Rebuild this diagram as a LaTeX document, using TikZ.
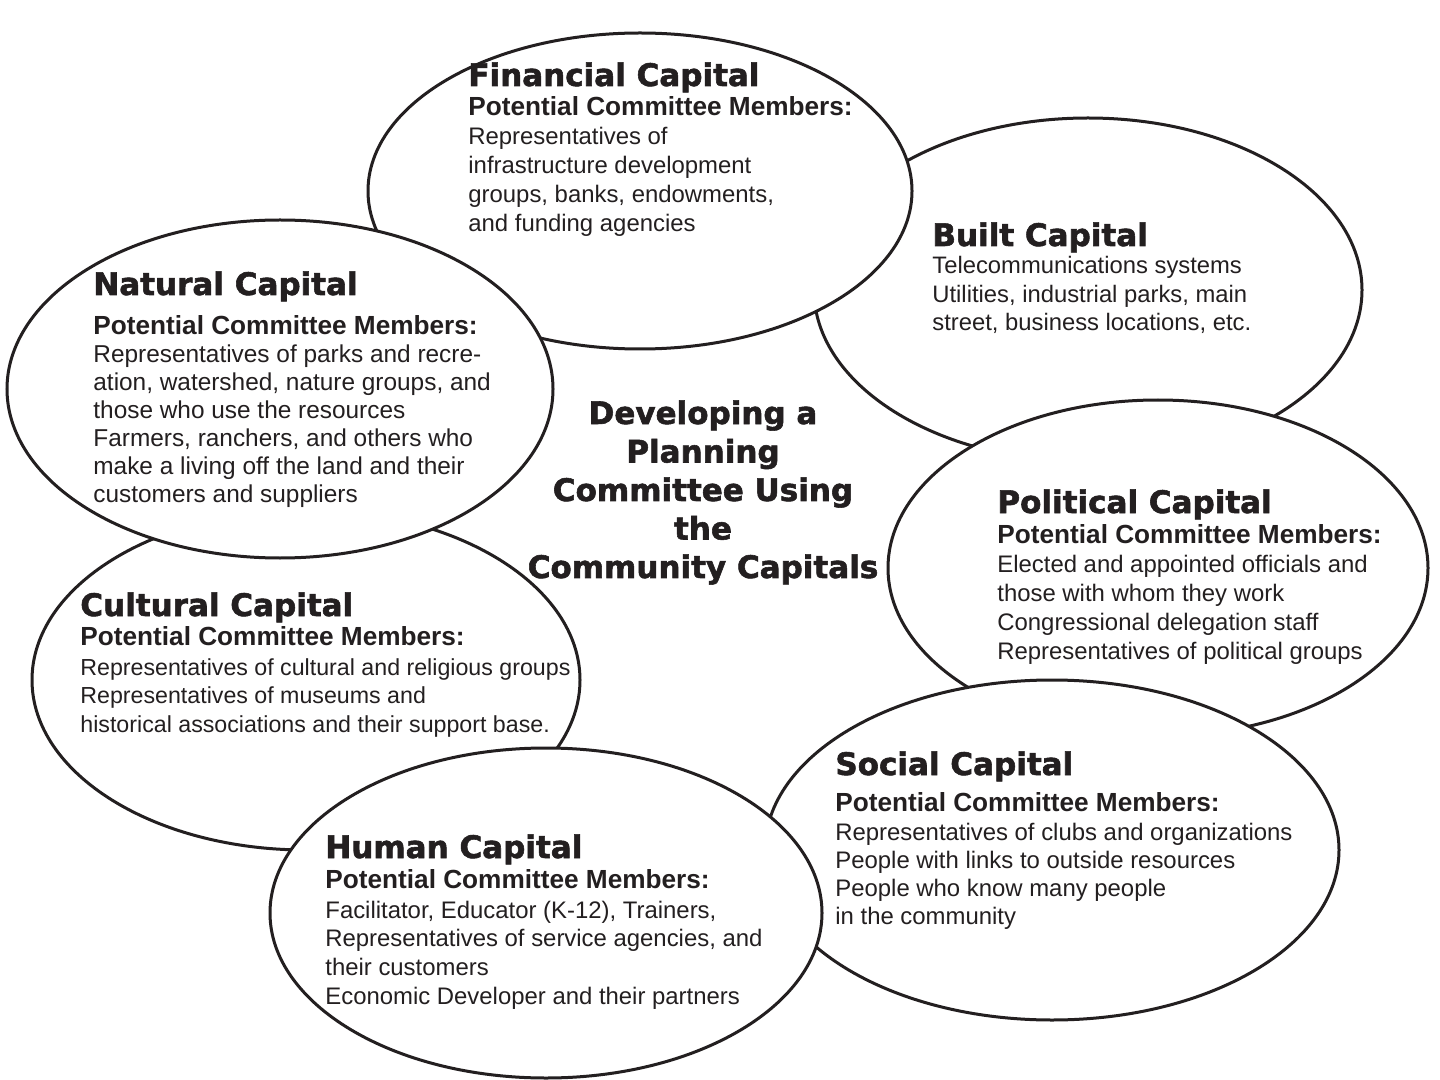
\documentclass[tikz,border=0pt]{standalone}
\usepackage{fontspec}
\setmainfont{Liberation Sans}
\newfontfamily\heavyfont{DejaVu Sans}[BoldFeatures={FakeBold=1.8}]
\usetikzlibrary{shapes.geometric}
\definecolor{ink}{HTML}{231F20}
\tikzset{
  capell/.style={ellipse, draw=ink, line width=1.5pt, fill=white, inner sep=0pt, outer sep=0pt},
  ttl/.style={anchor=base west, inner sep=0pt, text=ink, font=\heavyfont\bfseries\fontsize{15.5}{19}\selectfont},
  subttl/.style={anchor=base west, inner sep=0pt, text=ink, font=\bfseries\fontsize{13.1}{15}\selectfont},
  bodytxt/.style={anchor=base west, inner sep=0pt, text=ink, font=\fontsize{11.95}{14.3}\selectfont},
  centerttl/.style={anchor=base, inner sep=0pt, text=ink, font=\heavyfont\bfseries\fontsize{15.5}{19.25}\selectfont}
}
\newcommand{\lns}[1]{\begin{tabular}[t]{@{}l@{}}#1\end{tabular}}
\begin{document}
\begin{tikzpicture}[x=0.5pt, y=-0.5pt]
  \fill[white] (0,0) rectangle (1440,1080);
  \useasboundingbox (0,0) rectangle (1440,1080);
  % ellipses, back to front
  \node[capell, minimum width=274pt, minimum height=172pt] (blt) at (1088,290) {};
  \node[capell, minimum width=272pt, minimum height=158pt] (fin) at (640,191) {};
  \node[capell, minimum width=274pt, minimum height=170pt] (cul) at (306,680) {};
  \node[capell, minimum width=273pt, minimum height=169pt] (nat) at (280,389) {};
  \node[capell, minimum width=270pt, minimum height=168pt] (pol) at (1158,568) {};
  \node[capell, minimum width=287pt, minimum height=170pt] (soc) at (1052,850) {};
  \node[capell, minimum width=276pt, minimum height=165pt] (hum) at (546,913) {};

  % Financial
  \node[ttl] (finT) at (468,86) {Financial Capital};
  \node[subttl] (finS) at (468,116) {Potential Committee Members:};
  \node[bodytxt, font=\fontsize{11.95}{14.5}\selectfont] (finB) at (468,145) {\lns{Representatives of\\infrastructure development\\groups, banks, endowments,\\and funding agencies}};
  % Built
  \node[ttl] (bltT) at (932,246) {Built Capital};
  \node[bodytxt, font=\fontsize{11.9}{14.25}\selectfont] (bltB) at (932,274) {\lns{Telecommunications systems\\Utilities, industrial parks, main\\street, business locations, etc.}};
  % Natural
  \node[ttl] (natT) at (93,295) {Natural Capital};
  \node[subttl] (natS) at (93,335) {Potential Committee Members:};
  \node[bodytxt, font=\fontsize{12.2}{14}\selectfont] (natB) at (93,363) {\lns{Representatives of parks and recre-\\ation, watershed, nature groups, and\\those who use the resources\\Farmers, ranchers, and others who\\make a living off the land and their\\customers and suppliers}};
  % Political
  \node[ttl] (polT) at (997,513) {Political Capital};
  \node[subttl] (polS) at (997,543) {Potential Committee Members:};
  \node[bodytxt, font=\fontsize{11.95}{14.5}\selectfont] (polB) at (997,572) {\lns{Elected and appointed officials and\\those with whom they work\\Congressional delegation staff\\Representatives of political groups}};
  % Cultural
  \node[ttl] (culT) at (80,616) {Cultural Capital};
  \node[subttl] (culS) at (80,645) {Potential Committee Members:};
  \node[bodytxt, font=\fontsize{11.6}{14.25}\selectfont] (culB) at (80,675) {\lns{Representatives of cultural and religious groups\\Representatives of museums and\\historical associations and their support base.}};
  % Social
  \node[ttl] (socT) at (835,775) {Social Capital};
  \node[subttl] (socS) at (835,811) {Potential Committee Members:};
  \node[bodytxt, font=\fontsize{11.95}{14.15}\selectfont] (socB) at (835,840) {\lns{Representatives of clubs and organizations\\People with links to outside resources\\People who know many people\\in the community}};
  % Human
  \node[ttl] (humT) at (325,858) {Human Capital};
  \node[subttl] (humS) at (325,888) {Potential Committee Members:};
  \node[bodytxt, font=\fontsize{11.95}{14.35}\selectfont] (humB) at (325,918) {\lns{Facilitator, Educator (K-12), Trainers,\\Representatives of service agencies, and\\their customers\\Economic Developer and their partners}};

  % central title
  \node[centerttl] (main) at (703,424) {\begin{tabular}[t]{@{}c@{}}Developing a\\Planning\\Committee Using\\the\\Community Capitals\end{tabular}};
\end{tikzpicture}
\end{document}
